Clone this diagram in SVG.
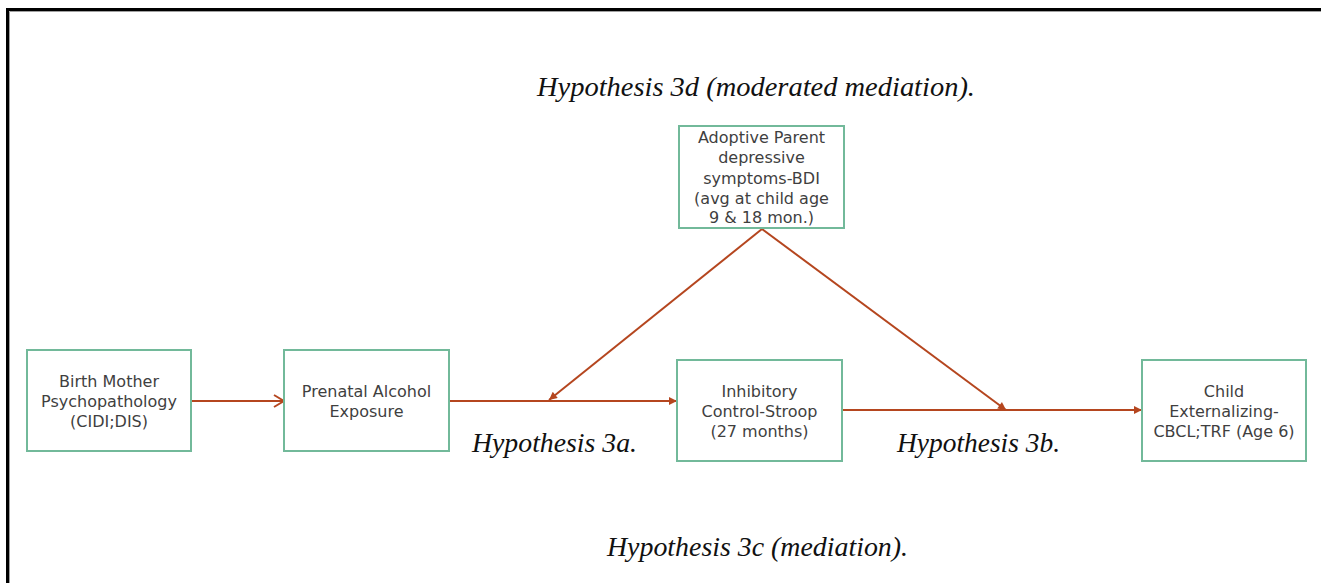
<svg xmlns="http://www.w3.org/2000/svg" width="1321" height="583" viewBox="0 0 1321 583">
<defs>
<style>
.box{fill:#fff;stroke:#72b99a;stroke-width:2}
.bt{font-family:"DejaVu Sans",sans-serif;font-size:16px;fill:#3f3f3f;text-anchor:middle}
.hy{font-family:"Liberation Serif",serif;font-style:italic;font-size:27px;fill:#111}
.cn{stroke:#b5461f;stroke-width:2;fill:none}
</style>
<marker id="tri" viewBox="0 0 10 10" refX="10" refY="5" markerWidth="10" markerHeight="8" markerUnits="userSpaceOnUse" orient="auto">
<path d="M0,0 L10,5 L0,10 Z" fill="#b5461f"/>
</marker>
<marker id="vee" viewBox="0 0 12 14" refX="11" refY="7" markerWidth="12" markerHeight="14" markerUnits="userSpaceOnUse" orient="auto">
<path d="M1,1 L11,7 L1,13" fill="none" stroke="#b5461f" stroke-width="2"/>
</marker>
</defs>
<rect width="1321" height="583" fill="#fff"/>
<path d="M7.5,583 V9.5 H1321" fill="none" stroke="#000" stroke-width="3"/>
<path d="M9.5,583 V11.5 H1321" fill="none" stroke="#a0a0a0" stroke-width="1"/>

<text class="hy" x="537" y="96" textLength="438" lengthAdjust="spacingAndGlyphs">Hypothesis 3d (moderated mediation).</text>
<text class="hy" x="472" y="452" textLength="165" lengthAdjust="spacingAndGlyphs">Hypothesis 3a.</text>
<text class="hy" x="897" y="452" textLength="163" lengthAdjust="spacingAndGlyphs">Hypothesis 3b.</text>
<text class="hy" x="607" y="556" textLength="301" lengthAdjust="spacingAndGlyphs">Hypothesis 3c (mediation).</text>

<g id="connectors">
<line class="cn" x1="191" y1="401" x2="284" y2="401" marker-end="url(#vee)"/>
<line class="cn" x1="449" y1="401" x2="677" y2="401" marker-end="url(#tri)"/>
<line class="cn" x1="842" y1="410" x2="1142" y2="410" marker-end="url(#tri)"/>
<line class="cn" x1="762" y1="229" x2="549" y2="400" marker-end="url(#tri)"/>
<line class="cn" x1="762" y1="229" x2="1006" y2="410" marker-end="url(#tri)"/>
</g>

<g id="birth-mother">
<rect class="box" x="27" y="350" width="164" height="101"/>
<text class="bt" x="109" y="387">Birth Mother</text>
<text class="bt" x="109" y="407">Psychopathology</text>
<text class="bt" x="109" y="427">(CIDI;DIS)</text>
</g>
<g id="prenatal">
<rect class="box" x="284" y="350" width="165" height="101"/>
<text class="bt" x="366.5" y="397">Prenatal Alcohol</text>
<text class="bt" x="366.5" y="417">Exposure</text>
</g>
<g id="adoptive">
<rect class="box" x="679" y="126" width="165" height="102"/>
<text class="bt" x="761.5" y="143">Adoptive Parent</text>
<text class="bt" x="761.5" y="163">depressive</text>
<text class="bt" x="761.5" y="184">symptoms-BDI</text>
<text class="bt" x="761.5" y="204">(avg at child age</text>
<text class="bt" x="761.5" y="223">9 &amp; 18 mon.)</text>
</g>
<g id="inhibitory">
<rect class="box" x="677" y="360" width="165" height="101"/>
<text class="bt" x="759.5" y="397">Inhibitory</text>
<text class="bt" x="759.5" y="417">Control-Stroop</text>
<text class="bt" x="759.5" y="437">(27 months)</text>
</g>
<g id="child">
<rect class="box" x="1142" y="360" width="164" height="101"/>
<text class="bt" x="1224" y="397">Child</text>
<text class="bt" x="1224" y="417">Externalizing-</text>
<text class="bt" x="1224" y="437">CBCL;TRF (Age 6)</text>
</g>
</svg>
